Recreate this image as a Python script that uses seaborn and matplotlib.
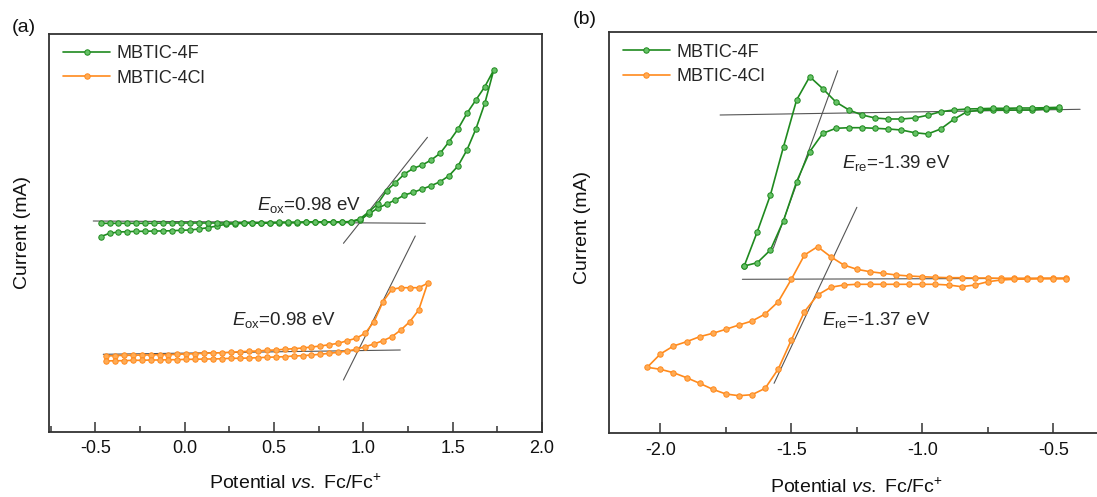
import matplotlib
matplotlib.use("Agg")
import matplotlib.pyplot as plt
from matplotlib.lines import Line2D
from matplotlib.ticker import MultipleLocator, FormatStrFormatter
import pandas as pd
import seaborn as sns

# ---------------- data ----------------
labels = ["MBTIC-4F", "MBTIC-4Cl"]

# (a) oxidation scans, MBTIC-4F
ox_f_fwd_E = [-0.47, -0.42, -0.37, -0.32, -0.27, -0.22, -0.17, -0.12, -0.07, -0.02,
              0.03, 0.08, 0.13, 0.18, 0.23, 0.28, 0.33, 0.38, 0.43, 0.48,
              0.53, 0.58, 0.63, 0.68, 0.73, 0.78, 0.83, 0.88, 0.93, 0.98,
              1.03, 1.08, 1.13, 1.18, 1.23, 1.28, 1.33, 1.38, 1.43, 1.48,
              1.53, 1.58, 1.63, 1.68, 1.73]
ox_f_fwd_I = [1.953, 1.987, 2.000, 2.003, 2.007, 2.007, 2.010, 2.010, 2.013, 2.017,
              2.020, 2.030, 2.043, 2.060, 2.077, 2.083, 2.087, 2.090, 2.090, 2.093,
              2.093, 2.093, 2.093, 2.097, 2.097, 2.097, 2.100, 2.100, 2.103, 2.120,
              2.180, 2.237, 2.280, 2.320, 2.370, 2.397, 2.430, 2.463, 2.503, 2.563,
              2.660, 2.820, 3.030, 3.287, 3.620]
ox_f_rev_E = [1.68, 1.63, 1.58, 1.53, 1.48, 1.43, 1.38, 1.33, 1.28, 1.23,
              1.18, 1.13, 1.08, 1.03, 0.98, 0.93, 0.88, 0.83, 0.78, 0.73,
              0.68, 0.63, 0.58, 0.53, 0.48, 0.43, 0.38, 0.33, 0.28, 0.23,
              0.18, 0.13, 0.08, 0.03, -0.02, -0.07, -0.12, -0.17, -0.22, -0.27,
              -0.32, -0.37, -0.42, -0.47]
ox_f_rev_I = [3.453, 3.320, 3.187, 3.030, 2.903, 2.787, 2.720, 2.670, 2.637, 2.580,
              2.493, 2.413, 2.280, 2.200, 2.130, 2.105, 2.100, 2.100, 2.100, 2.100,
              2.097, 2.097, 2.097, 2.097, 2.093, 2.093, 2.093, 2.093, 2.090, 2.090,
              2.090, 2.090, 2.090, 2.090, 2.090, 2.090, 2.090, 2.087, 2.087, 2.087,
              2.087, 2.087, 2.087, 2.087]

# (a) oxidation scans, MBTIC-4Cl
ox_cl_fwd_E = [-0.44, -0.39, -0.34, -0.29, -0.24, -0.19, -0.14, -0.09, -0.04, 0.01,
               0.06, 0.11, 0.16, 0.21, 0.26, 0.31, 0.36, 0.41, 0.46, 0.51,
               0.56, 0.61, 0.66, 0.71, 0.76, 0.81, 0.86, 0.91, 0.96, 1.01,
               1.06, 1.11, 1.16, 1.21, 1.26, 1.31, 1.36]
ox_cl_fwd_I = [0.760, 0.763, 0.767, 0.767, 0.770, 0.770, 0.773, 0.773, 0.777, 0.780,
               0.783, 0.787, 0.790, 0.793, 0.797, 0.803, 0.807, 0.810, 0.817, 0.820,
               0.827, 0.833, 0.840, 0.850, 0.860, 0.873, 0.887, 0.913, 0.937, 0.987,
               1.103, 1.303, 1.427, 1.443, 1.443, 1.443, 1.487]
ox_cl_rev_E = [1.31, 1.26, 1.21, 1.16, 1.11, 1.06, 1.01, 0.96, 0.91, 0.86,
               0.81, 0.76, 0.71, 0.66, 0.61, 0.56, 0.51, 0.46, 0.41, 0.36,
               0.31, 0.26, 0.21, 0.16, 0.11, 0.06, 0.01, -0.04, -0.09, -0.14,
               -0.19, -0.24, -0.29, -0.34, -0.39, -0.44]
ox_cl_rev_I = [1.220, 1.103, 1.020, 0.953, 0.913, 0.880, 0.853, 0.827, 0.810, 0.797,
               0.787, 0.777, 0.770, 0.763, 0.760, 0.753, 0.750, 0.747, 0.743, 0.740,
               0.737, 0.737, 0.733, 0.730, 0.730, 0.727, 0.727, 0.723, 0.723, 0.720,
               0.720, 0.717, 0.717, 0.713, 0.713, 0.710]

# (b) reduction scans, MBTIC-4F
re_f_E = [-1.68, -1.63, -1.58, -1.53, -1.48, -1.43, -1.38, -1.33, -1.28, -1.23,
          -1.18, -1.13, -1.08, -1.03, -0.98, -0.93, -0.88, -0.83, -0.78, -0.73,
          -0.68, -0.63, -0.58, -0.53, -0.48]
re_f_inner_I = [1.680, 1.713, 1.840, 2.133, 2.523, 2.823, 3.007, 3.057, 3.063, 3.063,
                3.057, 3.050, 3.040, 3.013, 3.000, 3.050, 3.147, 3.223, 3.237, 3.240,
                3.240, 3.240, 3.240, 3.250, 3.253]
re_f_outer_I = [1.680, 2.023, 2.390, 2.873, 3.340, 3.573, 3.453, 3.320, 3.240, 3.190,
                3.160, 3.150, 3.150, 3.160, 3.187, 3.223, 3.240, 3.250, 3.253, 3.257,
                3.257, 3.260, 3.260, 3.263, 3.267]

# (b) reduction scans, MBTIC-4Cl
re_cl_upper_E = [-2.05, -2.00, -1.95, -1.90, -1.85, -1.80, -1.75, -1.70, -1.65, -1.60,
                 -1.55, -1.50, -1.45, -1.40, -1.35, -1.30, -1.25, -1.20, -1.15, -1.10,
                 -1.05, -1.00, -0.95, -0.90, -0.85, -0.80, -0.75, -0.70, -0.65, -0.60,
                 -0.55, -0.50, -0.45]
re_cl_upper_I = [0.667, 0.800, 0.880, 0.923, 0.973, 1.007, 1.047, 1.090, 1.130, 1.200,
                 1.323, 1.547, 1.790, 1.873, 1.773, 1.690, 1.647, 1.623, 1.607, 1.590,
                 1.580, 1.573, 1.567, 1.563, 1.563, 1.560, 1.560, 1.557, 1.557, 1.557,
                 1.557, 1.557, 1.557]
re_cl_lower_E = [-2.00, -1.95, -1.90, -1.85, -1.80, -1.75, -1.70, -1.65, -1.60, -1.55,
                 -1.50, -1.45, -1.40, -1.35, -1.30, -1.25, -1.20, -1.15, -1.10, -1.05,
                 -1.00, -0.95, -0.90, -0.85, -0.80, -0.75, -0.70, -0.65, -0.60, -0.55,
                 -0.50, -0.45]
re_cl_lower_I = [0.647, 0.613, 0.563, 0.507, 0.447, 0.400, 0.383, 0.393, 0.457, 0.650,
                 0.940, 1.223, 1.390, 1.467, 1.490, 1.497, 1.497, 1.497, 1.497, 1.497,
                 1.497, 1.497, 1.490, 1.473, 1.490, 1.523, 1.540, 1.547, 1.550, 1.553,
                 1.553, 1.553]

# onset construction lines: (E start, E end), (I start, I end)
ox_f_base = ([-0.511, 1.347], [2.110, 2.087])
ox_f_tan = ([0.889, 1.359], [1.887, 2.947])
ox_cl_base = ([-0.455, 1.207], [0.777, 0.820])
ox_cl_tan = ([0.889, 1.291], [0.520, 1.960])
re_f_base = ([-1.772, -0.398], [3.190, 3.247])
re_f_tan = ([-1.569, -1.323], [1.857, 3.633])
re_cl_base = ([-1.687, -0.443], [1.547, 1.557])
re_cl_tan = ([-1.566, -1.250], [0.507, 2.267])

onset_ox = [0.98, 0.98]
onset_re = [-1.39, -1.37]

# ---------------- style ----------------
sns.set_theme(style="white")
plt.rcParams["font.family"] = ["Liberation Sans", "DejaVu Sans"]
plt.rcParams["mathtext.fontset"] = "custom"
plt.rcParams["mathtext.rm"] = "Liberation Sans"
plt.rcParams["mathtext.it"] = "Liberation Sans:italic"
plt.rcParams["mathtext.bf"] = "Liberation Sans:bold"

GREEN, GREEN_FACE = "#1f8a1f", "#66c266"
ORANGE, ORANGE_FACE = "#ff8a1c", "#ffab55"
SPINE = "#333333"
GUIDE = "#555555"
MS = 3.9

W, H = 1097, 497
fig = plt.figure(figsize=(W / 100, H / 100), dpi=100)
ax_a = fig.add_axes([49.3 / W, (H - 431.7) / H, 492.7 / W, 397.7 / H])
ax_b = fig.add_axes([609.0 / W, (H - 433.3) / H, 496.0 / W, 401.0 / H])


def cv_loop(ax, E1, I1, E2, I2, color, face):
    df = pd.DataFrame({"E": list(E1) + list(E2), "I": list(I1) + list(I2)})
    sns.lineplot(data=df, x="E", y="I", sort=False, estimator=None, ax=ax,
                 color=color, lw=1.2, marker="o", markersize=MS,
                 markerfacecolor=face, markeredgecolor=color,
                 markeredgewidth=0.7, legend=False)


def guide(ax, seg):
    ax.plot(seg[0], seg[1], color=GUIDE, lw=0.8, zorder=1)


# (a)
cv_loop(ax_a, ox_f_fwd_E, ox_f_fwd_I, ox_f_rev_E, ox_f_rev_I, GREEN, GREEN_FACE)
cv_loop(ax_a, ox_cl_fwd_E, ox_cl_fwd_I, ox_cl_rev_E, ox_cl_rev_I, ORANGE, ORANGE_FACE)
for seg in (ox_f_base, ox_f_tan, ox_cl_base, ox_cl_tan):
    guide(ax_a, seg)

# (b)
cv_loop(ax_b, re_f_E[::-1], re_f_inner_I[::-1], re_f_E, re_f_outer_I, GREEN, GREEN_FACE)
cv_loop(ax_b, re_cl_upper_E[::-1], re_cl_upper_I[::-1], re_cl_lower_E, re_cl_lower_I,
        ORANGE, ORANGE_FACE)
for seg in (re_f_base, re_f_tan, re_cl_base, re_cl_tan):
    guide(ax_b, seg)

# onset annotations
ax_a.text(0.406, 2.27, r"$\it{E}_{\rm ox}$=%.2f eV" % onset_ox[0], fontsize=13.5,
          va="center", ha="left")
ax_a.text(0.266, 1.12, r"$\it{E}_{\rm ox}$=%.2f eV" % onset_ox[1], fontsize=13.5,
          va="center", ha="left")
ax_b.text(-1.307, 2.71, r"$\it{E}_{\rm re}$=%.2f eV" % onset_re[0], fontsize=13.5,
          va="center", ha="left")
ax_b.text(-1.384, 1.14, r"$\it{E}_{\rm re}$=%.2f eV" % onset_re[1], fontsize=13.5,
          va="center", ha="left")

# axes cosmetics
ax_a.set_xlim(-0.757, 2.0)
ax_a.set_ylim(0.003, 3.98)
ax_b.set_xlim(-2.196, -0.303)
ax_b.set_ylim(0.007, 4.017)

xlabel = r"Potential $\it{vs.}$ Fc/Fc$^{+}$"
for ax, lx, ly, yx, yy in ((ax_a, 0.5, -0.129, -0.055, 0.502),
                           (ax_b, 0.5, -0.134, -0.054, 0.512)):
    ax.xaxis.set_major_locator(MultipleLocator(0.5))
    ax.xaxis.set_minor_locator(MultipleLocator(0.25))
    ax.xaxis.set_major_formatter(FormatStrFormatter("%.1f"))
    ax.set_yticks([])
    ax.tick_params(axis="x", which="both", direction="in", bottom=True, top=False,
                   colors=SPINE, labelcolor="#111111", labelsize=13, pad=6)
    ax.tick_params(axis="x", which="major", length=7, width=1.1)
    ax.tick_params(axis="x", which="minor", length=4, width=1.1)
    for sp in ax.spines.values():
        sp.set_visible(True)
        sp.set_color(SPINE)
        sp.set_linewidth(1.3)
    ax.set_xlabel(xlabel, fontsize=14, va="center", color="#111111")
    ax.set_ylabel("Current (mA)", fontsize=14, va="center", color="#111111")
    ax.xaxis.set_label_coords(lx, ly)
    ax.yaxis.set_label_coords(yx, yy)
    ax.grid(False)

    handles = [Line2D([], [], color=GREEN, lw=1.2, marker="o", markersize=MS,
                      markerfacecolor=GREEN_FACE, markeredgecolor=GREEN,
                      markeredgewidth=0.7),
               Line2D([], [], color=ORANGE, lw=1.2, marker="o", markersize=MS,
                      markerfacecolor=ORANGE_FACE, markeredgecolor=ORANGE,
                      markeredgewidth=0.7)]
    ax.legend(handles, labels, loc="upper left", bbox_to_anchor=(0.028, 0.972),
              frameon=False, fontsize=13, handlelength=2.6, handletextpad=0.35,
              labelspacing=0.42, borderpad=0.0, borderaxespad=0.0, numpoints=1)

fig.text(12 / W, 1 - 27 / H, "(a)", fontsize=14, va="center", ha="left", color="#111111")
fig.text(573 / W, 1 - 19 / H, "(b)", fontsize=14, va="center", ha="left", color="#111111")

fig.savefig("out.png", dpi=100, facecolor="white")
